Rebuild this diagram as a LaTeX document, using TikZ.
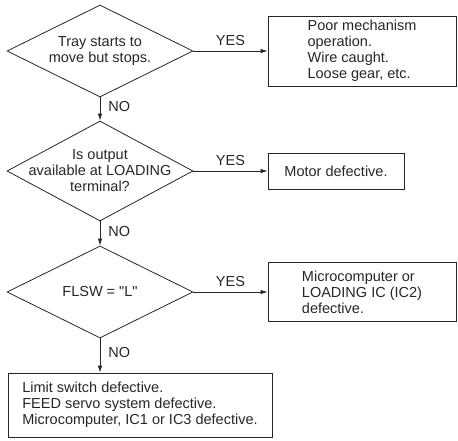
\documentclass[tikz,border=0pt]{standalone}
\usepackage{fontspec}
\setmainfont{Liberation Sans}
\usetikzlibrary{positioning,shapes.geometric,arrows.meta}
\tikzset{
    decision/.style={
        diamond,
        draw=black!85,
        minimum width=186pt,
        inner sep=0pt,
    },
    result/.style={
        rectangle,
        draw=black!85,
        align=left,
        inner sep=0pt,
    },
    connector/.style={
        -{Latex[length=7pt,width=4.5pt]},
        draw=black!85,
    },
    answer/.style={
        inner sep=2pt,
    },
}

\begin{document}
\begin{tikzpicture}[x=1pt,y=-1pt,line width=0.8pt,text=black!85,
    font=\fontsize{14.5}{16}\selectfont]
    \useasboundingbox (0,0) rectangle (458,441);
    % questions
    \node[decision,minimum height=92pt,
        label={[align=center]center:Tray starts to\\move but stops.}] (q1) at (100,51) {};
    \node[decision,minimum height=100pt,
        label={[align=center]center:Is output\\available at LOADING\\terminal?}] (q2) at (100,171) {};
    \node[decision,minimum height=92pt,
        label={[align=center]center:FLSW = \textquotedbl L\textquotedbl}] (q3) at (100,292) {};
    % results
    \node[result,minimum width=188pt,minimum height=70pt] (r1) at (362,51)
        {Poor mechanism\\operation.\\Wire caught.\\Loose gear, etc.};
    \node[result,minimum width=136pt,minimum height=36pt,align=center] (r2) at (336,171)
        {Motor defective.};
    \node[result,minimum width=188pt,minimum height=59pt] (r3) at (362,292)
        {Microcomputer or\\LOADING IC (IC2)\\defective.};
    \node[result,minimum width=264pt,minimum height=64pt] (r4) at (140,405)
        {Limit switch defective.\\FEED servo system defective.\\Microcomputer, IC1 or IC3 defective.};
    % yes branches
    \draw[connector] (q1.east) -- node[answer,above=3pt]{YES} (r1.west);
    \draw[connector] (q2.east) -- node[answer,above=3pt]{YES} (r2.west);
    \draw[connector] (q3.east) -- node[answer,above=3pt]{YES} (r3.west);
    % no branches
    \draw[connector] (q1.south) -- node[answer,right=6pt,pos=0.4]{NO} (q2.north);
    \draw[connector] (q2.south) -- node[answer,right=6pt,pos=0.4]{NO} (q3.north);
    \draw[connector] (q3.south) -- node[answer,right=6pt,pos=0.4]{NO} (q3.south |- r4.north);
\end{tikzpicture}
\end{document}
